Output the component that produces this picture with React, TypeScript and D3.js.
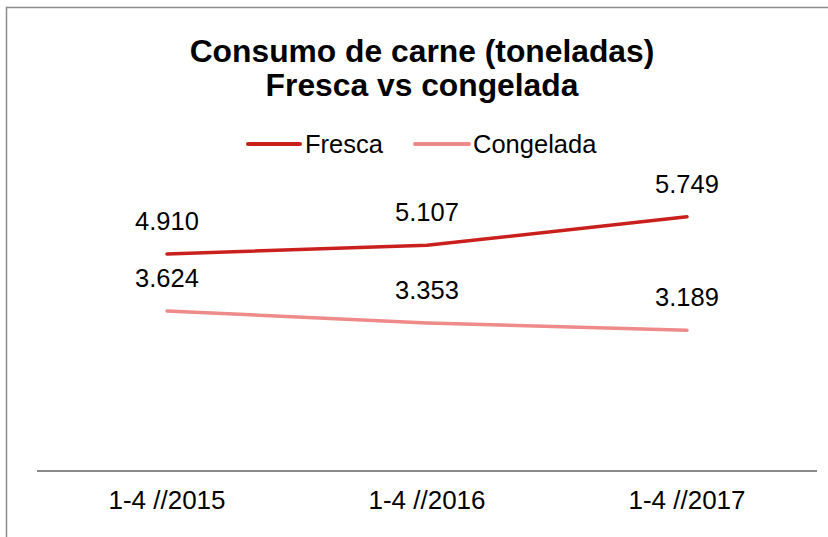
import React from "react";
import * as d3 from "d3";

const categories = ["1-4 //2015", "1-4 //2016", "1-4 //2017"];
const fresca = [4.91, 5.107, 5.749];
const congelada = [3.624, 3.353, 3.189];
const frescaLabels = ["4.910", "5.107", "5.749"];
const congeladaLabels = ["3.624", "3.353", "3.189"];
const seriesNames = ["Fresca", "Congelada"];
const titleLines = ["Consumo de carne (toneladas)", "Fresca vs congelada"];

const W = 828;
const H = 537;
const FONT = "'Liberation Sans', Arial, sans-serif";
const colors = ["#C9201E", "#EE8A8A"];

export default function App() {
  const x = d3.scaleBand<string>().domain(categories).range([37, 817]);
  const y = d3.scaleLinear().domain([0, 7]).range([471.5, 161.4]);
  const line = d3
    .line<number>()
    .x((_, i) => (x(categories[i]) as number) + x.bandwidth() / 2)
    .y((d) => y(d));

  const series = [
    { name: seriesNames[0], values: fresca, labels: frescaLabels, color: colors[0] },
    { name: seriesNames[1], values: congelada, labels: congeladaLabels, color: colors[1] },
  ];

  const legendItems = [
    { x1: 248, x2: 300, tx: 305 },
    { x1: 415, x2: 469, tx: 473 },
  ];

  return (
    <svg
      width={W}
      height={H}
      style={{ position: "absolute", left: 0, top: 0, display: "block" }}
      fontFamily={FONT}
    >
      <rect x={0} y={0} width={W} height={H} fill="#fff" />
      <rect x={6.5} y={7.5} width={W + 20} height={H + 20} fill="none" stroke="#8a8a8a" strokeWidth={1.5} />
      {titleLines.map((t, i) => (
        <text key={i} x={422} y={62 + i * 33.5} textAnchor="middle" fontWeight="bold" fontSize={31.8} fill="#000">
          {t}
        </text>
      ))}
      {series.map((s, i) => (
        <g key={s.name}>
          <line x1={legendItems[i].x1} x2={legendItems[i].x2} y1={144} y2={144} stroke={s.color} strokeWidth={4} strokeLinecap="round" />
          <text x={legendItems[i].tx} y={152.5} fontSize={25.5} fill="#000">
            {s.name}
          </text>
        </g>
      ))}
      <line x1={37} x2={817} y1={471} y2={471} stroke="#8a8a8a" strokeWidth={2} />
      {categories.map((c) => (
        <text key={c} x={(x(c) as number) + x.bandwidth() / 2} y={509} textAnchor="middle" fontSize={26} fill="#000">
          {c}
        </text>
      ))}
      {series.map((s) => (
        <g key={s.name + "l"}>
          <path d={line(s.values) || ""} fill="none" stroke={s.color} strokeWidth={3.5} strokeLinecap="round" strokeLinejoin="round" />
          {s.values.map((v, i) => (
            <text
              key={i}
              x={(x(categories[i]) as number) + x.bandwidth() / 2}
              y={y(v) - 24}
              textAnchor="middle"
              fontSize={25.5}
              fill="#000"
            >
              {s.labels[i]}
            </text>
          ))}
        </g>
      ))}
    </svg>
  );
}
